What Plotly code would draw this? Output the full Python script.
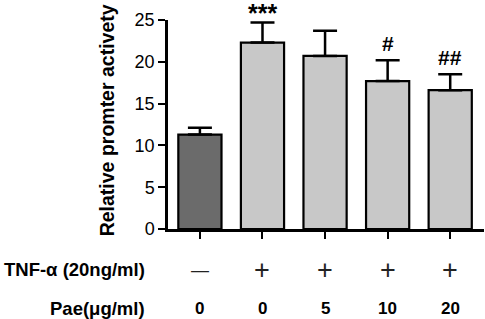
import plotly.graph_objects as go

groups = [0, 1, 2, 3, 4]
values = [11.3, 22.3, 20.7, 17.7, 16.6]
errors = [0.8, 2.4, 3.0, 2.5, 1.9]
bar_colors = ["#6b6b6b", "#c8c8c8", "#c8c8c8", "#c8c8c8", "#c8c8c8"]
sig_labels = ["", "***", "", "#", "##"]
tnf_labels = ["—", "+", "+", "+", "+"]
pae_labels = ["0", "0", "5", "10", "20"]
y_ticks = [0, 5, 10, 15, 20, 25]

FONT = "Arial, Liberation Sans, sans-serif"

fig = go.Figure()
fig.add_trace(go.Bar(
    x=groups, y=values,
    marker=dict(color=bar_colors, line=dict(color="black", width=2.2)),
    width=0.69,
    error_y=dict(type="data", array=errors, arrayminus=[0]*len(errors),
                 symmetric=False, color="black", thickness=2.5, width=12),
    showlegend=False,
))

annotations = []
for g, v, e, s in zip(groups, values, errors, sig_labels):
    if s:
        big = s.startswith("*")
        annotations.append(dict(x=g, y=v + e, xref="x", yref="y", text="<b>%s</b>" % s,
                                showarrow=False, yanchor="bottom",
                                yshift=-6 if big else 3,
                                font=dict(family=FONT, size=25 if big else 21, color="black")))
for g, t in zip(groups, tnf_labels):
    annotations.append(dict(x=g, y=-0.196, xref="x", yref="paper", text=t,
                            showarrow=False, yanchor="middle", xanchor="center",
                            font=dict(family=FONT, size=27 if t == "+" else 18, color="#222")))
for g, t in zip(groups, pae_labels):
    annotations.append(dict(x=g, y=-0.378, xref="x", yref="paper", text="<b>%s</b>" % t,
                            showarrow=False, yanchor="middle", xanchor="center",
                            font=dict(family=FONT, size=17, color="black")))
annotations.append(dict(x=-0.066, y=-0.196, xref="paper", yref="paper",
                        text="<b>TNF-α (20ng/ml)</b>", showarrow=False,
                        xanchor="right", yanchor="middle",
                        font=dict(family=FONT, size=18.5, color="black")))
annotations.append(dict(x=-0.066, y=-0.378, xref="paper", yref="paper",
                        text="<b>Pae(μg/ml)</b>", showarrow=False,
                        xanchor="right", yanchor="middle",
                        font=dict(family=FONT, size=18.5, color="black")))
annotations.append(dict(x=-0.193, y=0.52, xref="paper", yref="paper",
                        text="<b>Relative promter activety</b>", showarrow=False,
                        textangle=-90, xanchor="center", yanchor="middle",
                        font=dict(family=FONT, size=19.5, color="black")))

fig.update_layout(
    width=485, height=319,
    margin=dict(l=168, r=1, t=20, b=90),
    plot_bgcolor="white", paper_bgcolor="white",
    annotations=annotations,
    xaxis=dict(range=[-0.51, 4.54], tickvals=groups, showticklabels=False,
               ticks="outside", ticklen=7, tickwidth=2, tickcolor="black",
               showline=True, linecolor="black", linewidth=2.5,
               showgrid=False, zeroline=False, fixedrange=True),
    yaxis=dict(range=[0, 25], tickvals=y_ticks,
               ticks="outside", ticklen=7, tickwidth=2, tickcolor="black",
               showline=True, linecolor="black", linewidth=2.5,
               showgrid=False, zeroline=False,
               tickfont=dict(family=FONT, size=18, color="black"),
               tickprefix="<b>", ticksuffix="</b>"),
)

fig.write_html("out.html", config={"displayModeBar": False},
               post_script="document.body.style.margin='0';document.body.style.padding='0';")
